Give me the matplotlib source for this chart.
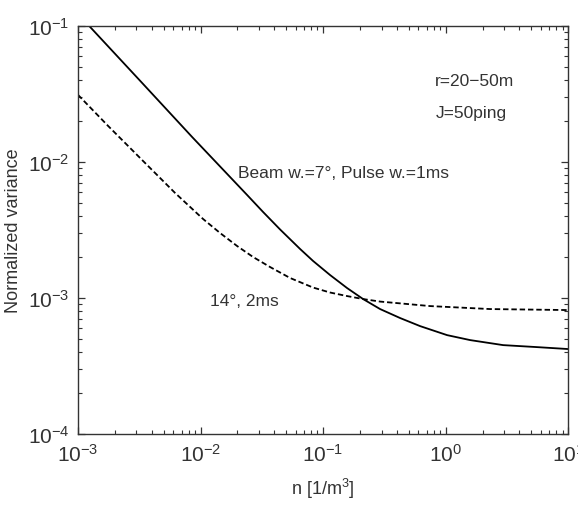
import matplotlib
matplotlib.use("Agg")
import matplotlib.pyplot as plt
from matplotlib.ticker import LogLocator, NullFormatter

plt.rcParams['font.family'] = ['Liberation Sans', 'DejaVu Sans']
plt.rcParams['mathtext.fontset'] = 'custom'
plt.rcParams['mathtext.rm'] = 'Liberation Sans'
plt.rcParams['mathtext.it'] = 'Liberation Sans'

# Solid curve: Beam w.=7°, Pulse w.=1ms
n_solid = [1.230e-3, 3.330e-3, 8.52e-3, 0.02397, 0.03236, 0.04457, 0.06491,
           0.08287, 0.1140, 0.1570, 0.2121, 0.2919, 0.4252, 0.6190, 1.028,
           1.585, 2.947, 5.58, 10.0]
v_solid = [0.1000, 0.03810, 0.01527, 5.72e-3, 4.29e-3, 3.19e-3, 2.293e-3,
           1.872e-3, 1.476e-3, 1.184e-3, 9.83e-4, 8.30e-4, 7.13e-4, 6.22e-4,
           5.34e-4, 4.91e-4, 4.51e-4, 4.36e-4, 4.22e-4]

# Dashed curve: 14°, 2ms
n_dash = [1.0e-3, 1.758e-3, 3.330e-3, 6.19e-3, 0.01048, 0.01443, 0.01986,
          0.02683, 0.03693, 0.05377, 0.08287, 0.1140, 0.1570, 0.2121, 0.2919,
          0.7471, 2.308, 10.0]
v_dash = [0.03110, 0.01840, 0.01034, 5.92e-3, 3.81e-3, 3.005e-3, 2.412e-3,
          2.002e-3, 1.690e-3, 1.404e-3, 1.194e-3, 1.098e-3, 1.034e-3, 9.83e-4,
          9.42e-4, 8.73e-4, 8.30e-4, 8.16e-4]

fig = plt.figure(figsize=(5.78, 5.06), dpi=100)
ax = fig.add_axes([0.135, 0.140, 0.848, 0.807])

ax.plot(n_solid, v_solid, color='black', lw=1.3, solid_joinstyle='round')
ax.plot(n_dash, v_dash, color='black', lw=1.3, linestyle=(0, (3, 1.6)))

ax.set_xscale('log')
ax.set_yscale('log')
ax.set_xlim(1e-3, 1e1)
ax.set_ylim(1e-4, 1e-1)

for a in (ax.xaxis, ax.yaxis):
    a.set_major_locator(LogLocator(base=10, numticks=10))
    a.set_minor_locator(LogLocator(base=10, subs=range(2, 10), numticks=10))
    a.set_minor_formatter(NullFormatter())

ax.tick_params(which='both', direction='in', top=True, right=True, color='#333333')
ax.tick_params(which='major', length=5, width=0.9, labelsize=15, pad=6,
               labelcolor='#333333')
ax.tick_params(which='minor', length=3, width=0.8)
for s in ax.spines.values():
    s.set_color('#333333')
    s.set_linewidth(1.0)

ax.set_xlabel('n [1/m$^3$]', fontsize=13, color='#333333', labelpad=8)
ax.set_ylabel('Normalized variance', fontsize=13, color='#333333', labelpad=4)

ax.text(0.728, 0.865, 'r=20\u221250m', transform=ax.transAxes, fontsize=12.5,
        color='#333333', va='center', ha='left')
ax.text(0.730, 0.787, 'J=50ping', transform=ax.transAxes, fontsize=12.5,
        color='#333333', va='center', ha='left')
ax.text(0.327, 0.642, 'Beam w.=7\u00b0, Pulse w.=1ms', transform=ax.transAxes,
        fontsize=12.5, color='#333333', va='center', ha='left')
ax.text(0.269, 0.328, '14\u00b0, 2ms', transform=ax.transAxes, fontsize=12.5,
        color='#333333', va='center', ha='left')

fig.savefig('out.png', dpi=100)
